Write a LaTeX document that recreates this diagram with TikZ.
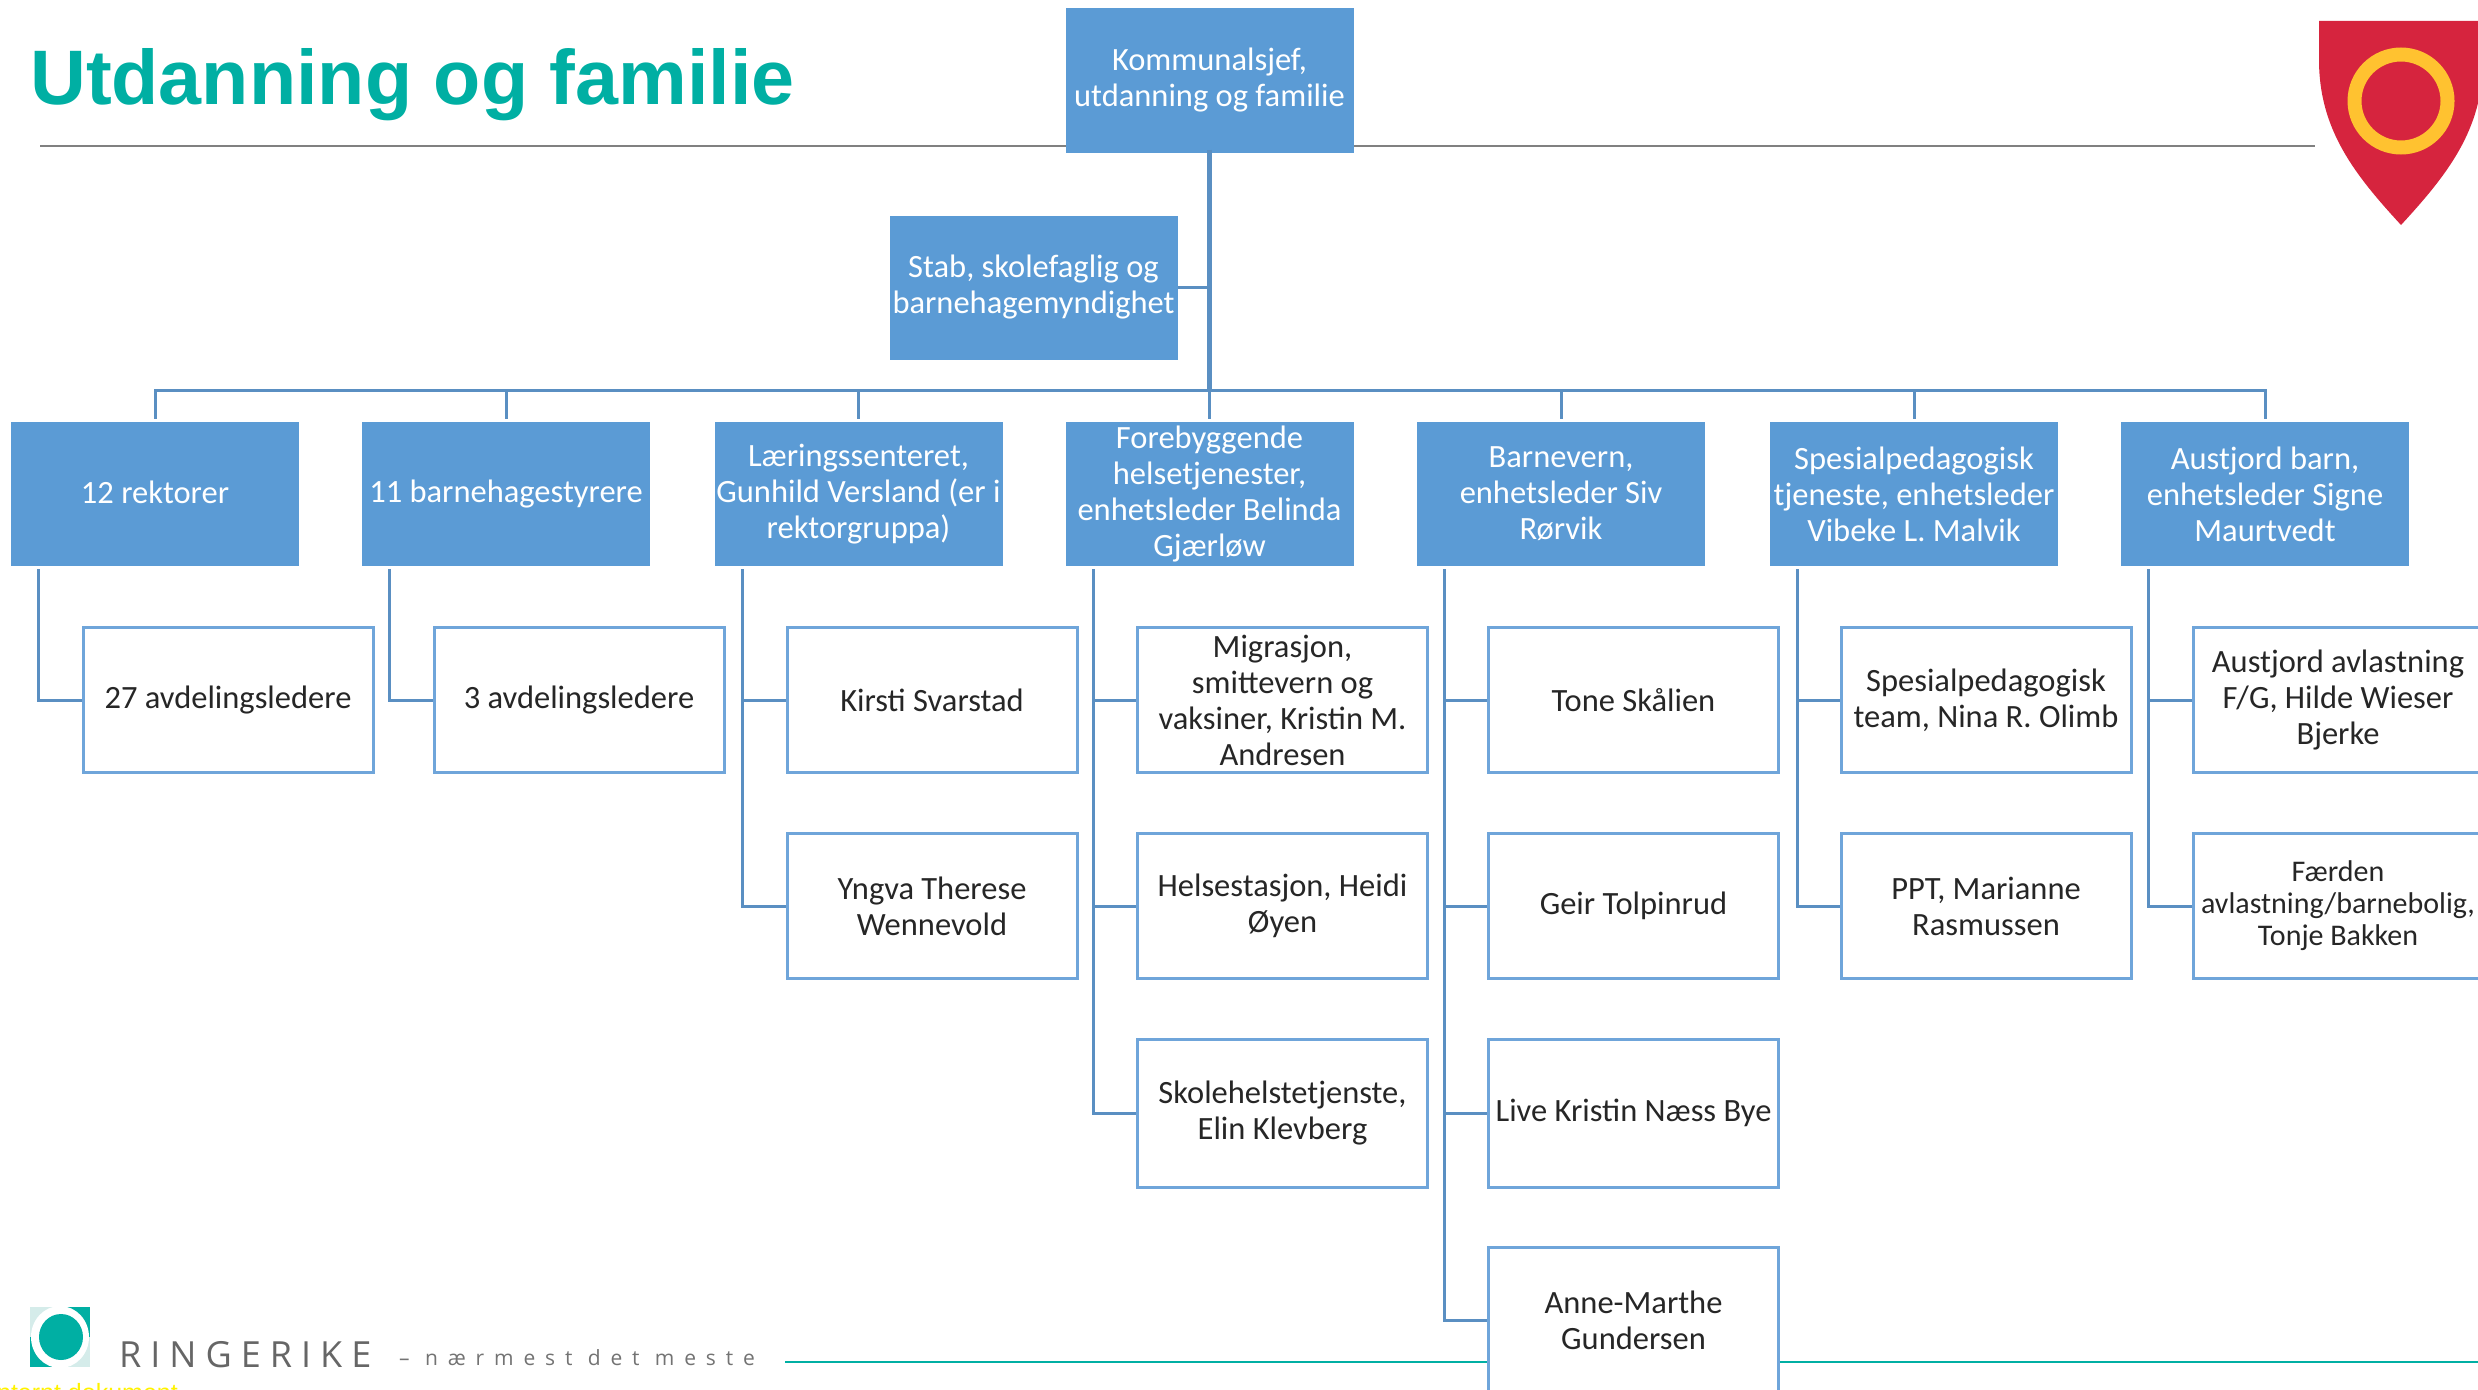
\documentclass[tikz,border=0pt]{standalone}
\usepackage{fontspec}
\setmainfont{Carlito}
\newfontfamily\titlefont{Liberation Sans}
\newfontfamily\logofont[LetterSpace=25]{Open Sans}
\newfontfamily\tagfont[LetterSpace=47]{Open Sans}
\definecolor{boxblue}{HTML}{5B9BD5}
\definecolor{edgeblue}{HTML}{6FA5DA}
\definecolor{connblue}{HTML}{5A8FC2}
\definecolor{tealc}{HTML}{00AFA3}
\definecolor{shieldred}{HTML}{D6243E}
\definecolor{ringyellow}{HTML}{FFC230}
\definecolor{logolight}{HTML}{D5ECEA}
\tikzset{
  bluebox/.style={fill=boxblue,draw=none,text=white,minimum width=288,minimum height=144,inner sep=0,align=center,font=\fontsize{32.5}{36}\selectfont},
  childbox/.style={fill=white,draw=edgeblue,line width=3,text=black!85,minimum width=290,minimum height=145,inner sep=0,align=center,font=\fontsize{32.5}{36}\selectfont},
  conn/.style={draw=connblue,line width=3},
  branch/.style={conn,shorten >=3},
  trunk/.style={draw=connblue,line width=4.5},
  rule/.style={draw=black!50,line width=1.6},
}
\newcommand{\kid}[2]{\draw[conn] ([xshift=28,yshift=-3]#1.south west) |- (#2.west);}
\begin{document}
\begin{tikzpicture}[x=1pt,y=-1pt]
\useasboundingbox (0,0) rectangle (2478,1389);
\clip (0,0) rectangle (2478,1389);
% header
\node[anchor=base west,inner sep=0,text=tealc,font=\titlefont\bfseries\fontsize{77.3}{90}\selectfont] (title) at (30,104) {Utdanning og familie};
\coordinate (ruleA) at (40,146);
\coordinate (ruleB) at (2315,146);
\draw[rule] (ruleA) -- (ruleB);
% shield
\fill[shieldred] (2319,21) -- (2483,21) -- (2483,60) .. controls (2483,130) and (2447,175) .. (2401,225) .. controls (2355,175) and (2319,130) .. (2319,60) -- cycle;
\draw[ringyellow,line width=14] (2401,101) circle (46.5);
% footer
\coordinate (tealA) at (785,1362);
\coordinate (tealB) at (2478,1362);
\draw[tealc,line width=2.4] (tealA) -- (tealB);
\fill[logolight] (30,1307) rectangle (90,1367);
\fill[tealc] (60,1307) rectangle (90,1337);
\fill[tealc] (30,1337) rectangle (60,1367);
\fill[white] (60,1337) ellipse (29 and 31);
\fill[tealc] (61,1337) ellipse (22 and 23);
\node[anchor=base west,inner sep=0,text=black!60,font=\logofont\fontsize{36}{40}\selectfont] (brand) at (119,1367) {RINGERIKE};
\node[anchor=base west,inner sep=0,text=black!55,font=\tagfont\fontsize{21}{26}\selectfont] (tag) at (399,1365) {– nærmest det meste};
\node[anchor=base west,inner sep=0,text=yellow,font=\titlefont\fontsize{25}{30}\selectfont] (internal) at (-10,1401) {Internt dokument};
% top level
\node[bluebox] (top) at (1209.5,80.5) {Kommunalsjef,\\utdanning og familie};
\node[bluebox] (stab) at (1033.5,287.5) {Stab, skolefaglig og\\barnehagemyndighet};
\coordinate (bus) at (1209.5,390);
\draw[trunk] ([yshift=3]top.south) -- (bus);
\draw[conn] (stab.east) -- (stab.east -| bus);
% second level
\node[bluebox] (a) at (155,494) {\raisebox{3pt}{12 rektorer}};
\node[bluebox] (b) at (506,494) {\raisebox{2pt}{11 barnehagestyrere}};
\node[bluebox] (c) at (858.5,494) {Læringssenteret,\\Gunhild Versland (er i\\rektorgruppa)};
\node[bluebox] (d) at (1209.5,494) {Forebyggende\\helsetjenester,\\enhetsleder Belinda\\Gjærløw};
\node[bluebox] (e) at (1561,494) {Barnevern,\\enhetsleder Siv\\Rørvik};
\node[bluebox] (f) at (1914,494) {Spesialpedagogisk\\tjeneste, enhetsleder\\Vibeke L. Malvik};
\node[bluebox] (g) at (2265,494) {Austjord barn,\\enhetsleder Signe\\Maurtvedt};
\foreach \n in {a,b,c,d,e,f,g} \draw[branch] (bus) -| (\n.north);
% third level
\node[childbox] (a1) at (228,700) {27 avdelingsledere};
\node[childbox] (b1) at (579,700) {3 avdelingsledere};
\node[childbox] (c1) at (932,700) {Kirsti Svarstad};
\node[childbox] (c2) at (932,906) {Yngva Therese\\Wennevold};
\node[childbox] (d1) at (1282.5,700) {Migrasjon,\\smittevern og\\vaksiner, Kristin M.\\Andresen};
\node[childbox] (d2) at (1282.5,906) {Helsestasjon, Heidi\\Øyen};
\node[childbox,minimum height=148] (d3) at (1282.5,1113) {Skolehelstetjenste,\\Elin Klevberg};
\node[childbox] (e1) at (1633.5,700) {Tone Skålien};
\node[childbox] (e2) at (1633.5,906) {Geir Tolpinrud};
\node[childbox,minimum height=148] (e3) at (1633.5,1113) {Live Kristin Næss Bye};
\node[childbox,minimum height=146] (e4) at (1633.5,1320) {Anne-Marthe\\Gundersen};
\node[childbox] (f1) at (1986,700) {Spesialpedagogisk\\team, Nina R. Olimb};
\node[childbox] (f2) at (1986,906) {PPT, Marianne\\Rasmussen};
\node[childbox] (g1) at (2338,700) {Austjord avlastning\\F/G, Hilde Wieser\\Bjerke};
\node[childbox,font=\fontsize{30}{32}\selectfont] (g2) at (2338,906) {Færden\\avlastning/barnebolig,\\Tonje Bakken};
\kid{a}{a1}\kid{b}{b1}\kid{c}{c1}\kid{c}{c2}
\kid{d}{d1}\kid{d}{d2}\kid{d}{d3}
\kid{e}{e1}\kid{e}{e2}\kid{e}{e3}\kid{e}{e4}
\kid{f}{f1}\kid{f}{f2}\kid{g}{g1}\kid{g}{g2}
\end{tikzpicture}
\end{document}
